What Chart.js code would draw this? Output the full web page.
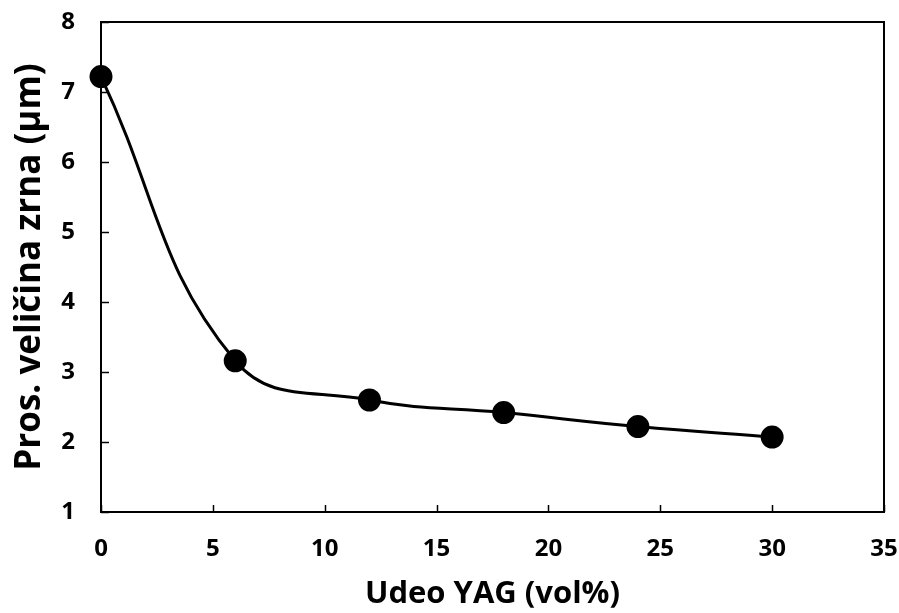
<!DOCTYPE html>
<html>
<head>
<meta charset="utf-8">
<script src="https://cdn.jsdelivr.net/npm/chart.js@4"></script>
<style>
  html, body { margin: 0; padding: 0; background: #fff; }
  #wrap { width: 899px; height: 613px; }
</style>
</head>
<body>
<div id="wrap"><canvas id="c" width="899" height="613"></canvas></div>
<script>
// YAG volume fraction vs. average grain size
const yagContent = [0, 6, 12, 18, 24, 30];
const grainSize = [7.22, 3.16, 2.60, 2.42, 2.22, 2.07];
const xTicks = [0, 5, 10, 15, 20, 25, 30, 35];
const yTicks = [1, 2, 3, 4, 5, 6, 7, 8];

const FONT = '"Open Sans", "DejaVu Sans", sans-serif';

// frame around the plot plus inward tick marks (Excel style)
const framePlugin = {
    id: 'frame',
    afterDatasetsDraw(chart) {
        const { ctx, chartArea: a, scales } = chart;
        ctx.save();
        ctx.strokeStyle = '#000';
        ctx.lineWidth = 2;
        ctx.strokeRect(a.left, a.top, a.right - a.left, a.bottom - a.top);
        ctx.lineWidth = 1.5;
        ctx.beginPath();
        xTicks.forEach(v => {
            const px = Math.round(scales.x.getPixelForValue(v)) + 0.5;
            ctx.moveTo(px, a.bottom);
            ctx.lineTo(px, a.bottom - 7);
        });
        yTicks.forEach(v => {
            const py = Math.round(scales.y.getPixelForValue(v)) + 0.5;
            ctx.moveTo(a.left, py);
            ctx.lineTo(a.left + 8, py);
        });
        ctx.stroke();
        ctx.restore();
    }
};

new Chart(document.getElementById('c'), {
    type: 'scatter',
    data: {
        datasets: [{
            data: yagContent.map((x, i) => ({ x: x, y: grainSize[i] })),
            showLine: true,
            tension: 0.42,
            borderColor: '#000',
            borderWidth: 3,
            backgroundColor: '#000',
            pointRadius: 10,
            pointHoverRadius: 10,
            clip: false
        }]
    },
    options: {
        responsive: false,
        animation: false,
        layout: { padding: { top: 22, right: 15, left: 0, bottom: 0 } },
        plugins: { legend: { display: false }, tooltip: { enabled: false } },
        scales: {
            x: {
                type: 'linear',
                min: 0, max: 35,
                afterBuildTicks: s => { s.ticks = xTicks.map(v => ({ value: v })); },
                afterFit: s => { s.height = 101; s.paddingLeft = 0; s.paddingRight = 0; },
                grid: { display: false, drawTicks: false },
                border: { display: false },
                ticks: {
                    color: '#000',
                    padding: 23,
                    font: { family: FONT, size: 24, weight: 'bold' }
                },
                title: {
                    display: true,
                    text: 'Udeo YAG (vol%)',
                    color: '#000',
                    padding: { top: 0, bottom: 0 },
                    font: { family: FONT, size: 31, weight: 'bold' }
                }
            },
            y: {
                type: 'linear',
                min: 1, max: 8,
                afterBuildTicks: s => { s.ticks = yTicks.map(v => ({ value: v })); },
                afterFit: s => { s.width = 101; s.paddingTop = 0; s.paddingBottom = 0; },
                grid: { display: false, drawTicks: false },
                border: { display: false },
                ticks: {
                    color: '#000',
                    padding: 26,
                    font: { family: FONT, size: 24, weight: 'bold' }
                },
                title: {
                    display: true,
                    text: 'Pros. veličina zrna (µm)',
                    color: '#000',
                    padding: { top: 9, bottom: 0 },
                    font: { family: FONT, size: 35, weight: 'bold' }
                }
            }
        }
    },
    plugins: [framePlugin]
});
</script>
</body>
</html>
